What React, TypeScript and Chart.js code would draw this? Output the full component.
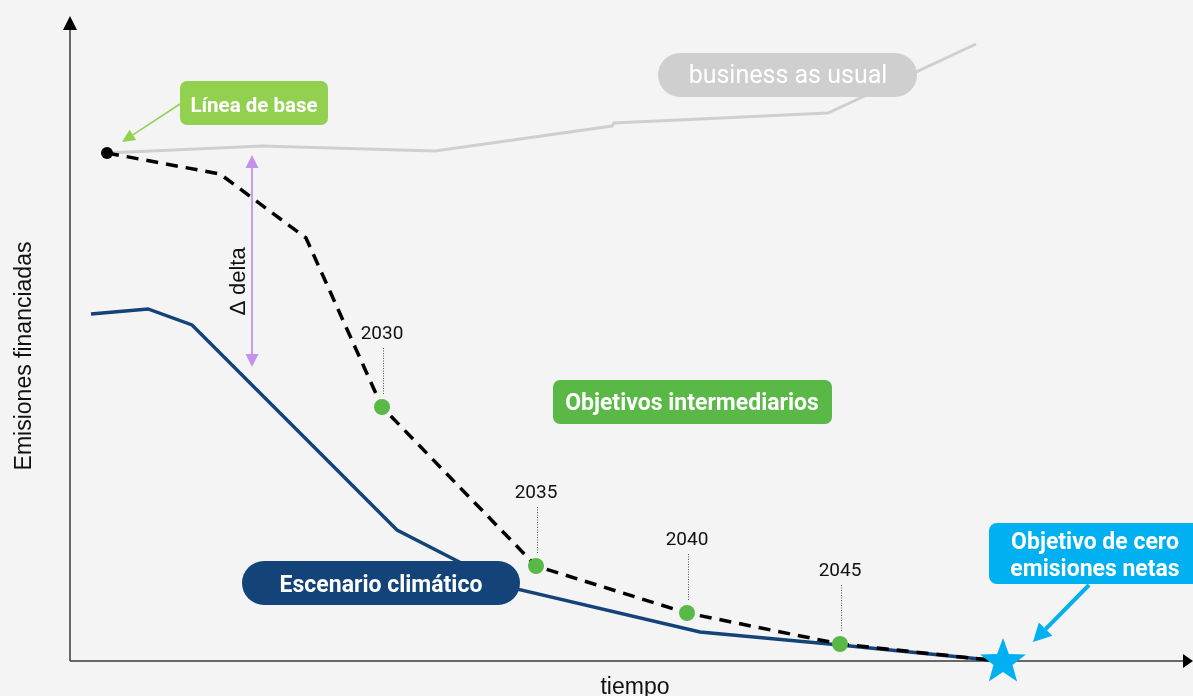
import React, { useEffect, useRef } from 'react';
import { Chart, registerables } from 'chart.js';

Chart.register(...registerables);

// ---- Data (abstract units: time on x, financed emissions on y) ----
const bauTime = [3.7, 19.2, 36.5, 54.2, 54.4, 75.8, 90.6];
const bauEmissions = [50.8, 51.5, 51.0, 53.5, 53.8, 54.8, 61.7];

const targetTime = [3.7, 15.0, 23.6, 31.2, 46.6, 61.7, 77.0, 92.0];
const targetEmissions = [50.8, 48.7, 42.3, 25.4, 9.5, 4.8, 1.7, 0.1];

const climateTime = [2.1, 7.8, 12.2, 32.7, 43.8, 63.0, 77.0, 92.0];
const climateEmissions = [34.7, 35.2, 33.6, 13.1, 7.4, 2.9, 1.6, 0.1];

const milestoneYears = ['2030', '2035', '2040', '2045'];
const milestoneTime = [31.2, 46.6, 61.7, 77.0];
const milestoneEmissions = [25.4, 9.5, 4.8, 1.7];

const netZeroTime = [93.3];
const netZeroEmissions = [0];

const deltaTime = 18.2;
const deltaTop = 50.6;
const deltaBottom = 29.4;

const NAVY = '#134378';
const CYAN = '#00b0f0';
const GREEN_LIGHT = '#92d050';
const GREEN = '#5ab946';
const GRAY = '#cfcfcf';
const PURPLE = '#c590ee';

function pts(xs: number[], ys: number[]) {
  return xs.map((x, i) => ({ x, y: ys[i] }));
}

function rrect(ctx: CanvasRenderingContext2D, x: number, y: number, w: number, h: number, r: number) {
  const rr = Math.min(r, h / 2, w / 2);
  ctx.beginPath();
  ctx.moveTo(x + rr, y);
  ctx.lineTo(x + w - rr, y);
  ctx.arcTo(x + w, y, x + w, y + rr, rr);
  ctx.lineTo(x + w, y + h - rr);
  ctx.arcTo(x + w, y + h, x + w - rr, y + h, rr);
  ctx.lineTo(x + rr, y + h);
  ctx.arcTo(x, y + h, x, y + h - rr, rr);
  ctx.lineTo(x, y + rr);
  ctx.arcTo(x, y, x + rr, y, rr);
  ctx.closePath();
}

function arrow(
  ctx: CanvasRenderingContext2D,
  x1: number, y1: number, x2: number, y2: number,
  color: string, width: number, headLen: number, headW: number
) {
  const a = Math.atan2(y2 - y1, x2 - x1);
  const bx = x2 - headLen * Math.cos(a);
  const by = y2 - headLen * Math.sin(a);
  ctx.save();
  ctx.strokeStyle = color;
  ctx.fillStyle = color;
  ctx.lineWidth = width;
  ctx.setLineDash([]);
  ctx.beginPath();
  ctx.moveTo(x1, y1);
  ctx.lineTo(bx, by);
  ctx.stroke();
  ctx.beginPath();
  ctx.moveTo(x2, y2);
  ctx.lineTo(bx + (headW / 2) * Math.sin(a), by - (headW / 2) * Math.cos(a));
  ctx.lineTo(bx - (headW / 2) * Math.sin(a), by + (headW / 2) * Math.cos(a));
  ctx.closePath();
  ctx.fill();
  ctx.restore();
}

function star(ctx: CanvasRenderingContext2D, cx: number, cy: number, R: number, r: number, color: string) {
  ctx.save();
  ctx.fillStyle = color;
  ctx.beginPath();
  for (let i = 0; i < 10; i++) {
    const rad = i % 2 === 0 ? R : r;
    const ang = -Math.PI / 2 + (i * Math.PI) / 5;
    const x = cx + rad * Math.cos(ang);
    const y = cy + rad * Math.sin(ang);
    if (i === 0) ctx.moveTo(x, y);
    else ctx.lineTo(x, y);
  }
  ctx.closePath();
  ctx.fill();
  ctx.restore();
}

function boxText(
  ctx: CanvasRenderingContext2D, x: number, y: number, w: number, h: number, r: number,
  fill: string, lines: string[], font: string, baselines: number[], cx: number
) {
  ctx.save();
  rrect(ctx, x, y, w, h, r);
  ctx.fillStyle = fill;
  ctx.fill();
  ctx.fillStyle = '#ffffff';
  ctx.font = font;
  ctx.textAlign = 'center';
  ctx.textBaseline = 'alphabetic';
  lines.forEach((t, i) => ctx.fillText(t, cx, baselines[i]));
  ctx.restore();
}

const bgPlugin = {
  id: 'bg',
  beforeDraw(chart: any) {
    const ctx = chart.ctx as CanvasRenderingContext2D;
    ctx.save();
    ctx.fillStyle = '#f4f4f4';
    ctx.fillRect(0, 0, chart.width, chart.height);
    ctx.restore();
  },
};

const decorPlugin = {
  id: 'decor',
  beforeDatasetsDraw(chart: any) {
    const ctx = chart.ctx as CanvasRenderingContext2D;
    const xs = chart.scales.x;
    const ys = chart.scales.y;
    const ox = xs.getPixelForValue(0);
    const oy = ys.getPixelForValue(0);
    const area = chart.chartArea;

    // axes
    ctx.save();
    ctx.strokeStyle = '#3a3a3a';
    ctx.lineWidth = 1.5;
    ctx.beginPath();
    ctx.moveTo(ox, oy);
    ctx.lineTo(ox, area.top + 28);
    ctx.stroke();
    ctx.beginPath();
    ctx.moveTo(ox, oy);
    ctx.lineTo(area.right - 8, oy);
    ctx.stroke();
    ctx.fillStyle = '#000';
    ctx.beginPath();
    ctx.moveTo(ox, area.top + 16);
    ctx.lineTo(ox - 7, area.top + 30);
    ctx.lineTo(ox + 7, area.top + 30);
    ctx.closePath();
    ctx.fill();
    ctx.beginPath();
    ctx.moveTo(area.right, oy);
    ctx.lineTo(area.right - 10, oy - 7);
    ctx.lineTo(area.right - 10, oy + 7);
    ctx.closePath();
    ctx.fill();
    ctx.restore();

    // axis titles
    ctx.save();
    ctx.fillStyle = '#111';
    ctx.font = '23px "Liberation Sans", Arial, sans-serif';
    ctx.textAlign = 'center';
    ctx.textBaseline = 'alphabetic';
    ctx.fillText('tiempo', 635, 694);
    ctx.translate(31, 356);
    ctx.rotate(-Math.PI / 2);
    ctx.fillText('Emisiones financiadas', 0, 0);
    ctx.restore();

    // delta arrow
    const dx = xs.getPixelForValue(deltaTime);
    const dTop = ys.getPixelForValue(deltaTop);
    const dBot = ys.getPixelForValue(deltaBottom);
    const mid = (dTop + dBot) / 2;
    arrow(ctx, dx, mid, dx, dTop, PURPLE, 1.8, 13, 13);
    arrow(ctx, dx, mid, dx, dBot, PURPLE, 1.8, 13, 13);
    ctx.save();
    ctx.fillStyle = '#111';
    ctx.font = '22px "Liberation Sans", Arial, sans-serif';
    ctx.textAlign = 'center';
    ctx.textBaseline = 'alphabetic';
    ctx.translate(dx - 7, mid + 20);
    ctx.rotate(-Math.PI / 2);
    ctx.fillText('\u2206 delta', 0, 0);
    ctx.restore();
  },
  afterDatasetsDraw(chart: any) {
    const ctx = chart.ctx as CanvasRenderingContext2D;
    const xs = chart.scales.x;
    const ys = chart.scales.y;

    // milestone year labels with dotted leaders
    milestoneYears.forEach((yr, i) => {
      const px = xs.getPixelForValue(milestoneTime[i]);
      const py = ys.getPixelForValue(milestoneEmissions[i]);
      ctx.save();
      ctx.strokeStyle = '#555';
      ctx.lineWidth = 1;
      ctx.setLineDash([1, 1.5]);
      ctx.beginPath();
      ctx.moveTo(px + 1.5, py - 59);
      ctx.lineTo(px + 1.5, py - 12);
      ctx.stroke();
      ctx.setLineDash([]);
      ctx.fillStyle = '#111';
      ctx.font = '19px Roboto, "Liberation Sans", sans-serif';
      ctx.textAlign = 'center';
      ctx.textBaseline = 'alphabetic';
      ctx.fillText(yr, px, py - 68);
      ctx.restore();
    });

    // business as usual
    boxText(ctx, 658, 53, 259, 44, 22, '#d0cfcf', ['business as usual'],
      '25px Roboto, "Liberation Sans", sans-serif', [83], 788);

    // Línea de base
    const bx = xs.getPixelForValue(targetTime[0]);
    const by = ys.getPixelForValue(targetEmissions[0]);
    arrow(ctx, 180, 104, bx + 15, by - 11, GREEN_LIGHT, 1.5, 13, 12);
    boxText(ctx, 180, 81, 148, 44, 7, GREEN_LIGHT, ['Línea de base'],
      'bold 20.5px Roboto, "Liberation Sans", sans-serif', [112], 254);

    // Objetivos intermediarios
    boxText(ctx, 553, 380, 279, 44, 7, GREEN, ['Objetivos intermediarios'],
      'bold 23px Roboto, "Liberation Sans", sans-serif', [410], 692);

    // Escenario climático
    boxText(ctx, 242, 561, 278, 44, 22, NAVY, ['Escenario climático'],
      'bold 23px Roboto, "Liberation Sans", sans-serif', [592], 381);

    // net zero star and label
    const sx = xs.getPixelForValue(netZeroTime[0]);
    const sy = ys.getPixelForValue(netZeroEmissions[0]);
    star(ctx, sx, sy + 1, 24, 10, CYAN);
    arrow(ctx, 1089, 585, sx + 30, sy - 19, CYAN, 4, 18, 19);
    boxText(ctx, 989, 523, 230, 61, 8, CYAN, ['Objetivo de cero', 'emisiones netas'],
      'bold 23px Roboto, "Liberation Sans", sans-serif', [549, 576], 1095);
  },
};

export default function App() {
  const ref = useRef<HTMLCanvasElement | null>(null);

  useEffect(() => {
    if (!ref.current) return;
    const chart = new Chart(ref.current, {
      type: 'line',
      data: {
        datasets: [
          {
            label: 'Objetivos intermediarios',
            data: pts(milestoneTime, milestoneEmissions),
            showLine: false,
            pointRadius: 8,
            pointHoverRadius: 8,
            pointBackgroundColor: GREEN,
            pointBorderWidth: 0,
            borderColor: GREEN,
            order: 0,
          },
          {
            label: 'Línea de base',
            data: pts(targetTime.slice(0, 1), targetEmissions.slice(0, 1)),
            showLine: false,
            pointRadius: 6,
            pointBackgroundColor: '#000',
            pointBorderWidth: 0,
            borderColor: '#000',
            order: 1,
          },
          {
            label: 'Trayectoria objetivo',
            data: pts(targetTime, targetEmissions),
            borderColor: '#000',
            borderWidth: 3.5,
            borderDash: [12, 8],
            pointRadius: 0,
            tension: 0,
            fill: false,
            order: 2,
          },
          {
            label: 'Escenario climático',
            data: pts(climateTime, climateEmissions),
            borderColor: NAVY,
            borderWidth: 3.4,
            pointRadius: 0,
            tension: 0,
            fill: false,
            order: 3,
          },
          {
            label: 'business as usual',
            data: pts(bauTime, bauEmissions),
            borderColor: GRAY,
            borderWidth: 3,
            pointRadius: 0,
            tension: 0,
            fill: false,
            order: 4,
          },
        ],
      },
      options: {
        responsive: false,
        animation: false,
        devicePixelRatio: 1,
        events: [],
        layout: { padding: 0, autoPadding: false },
        scales: {
          x: { type: 'linear', display: false, min: -7, max: 112.3 },
          y: { type: 'linear', display: false, min: -3.5, max: 66.1 },
        },
        plugins: {
          legend: { display: false },
          tooltip: { enabled: false },
        },
      },
      plugins: [bgPlugin, decorPlugin],
    });
    return () => chart.destroy();
  }, []);

  return (
    <div style={{ position: 'absolute', left: 0, top: 0, width: 1193, height: 696, overflow: 'hidden' }}>
      <canvas ref={ref} width={1193} height={696} style={{ display: 'block', width: 1193, height: 696 }} />
    </div>
  );
}
